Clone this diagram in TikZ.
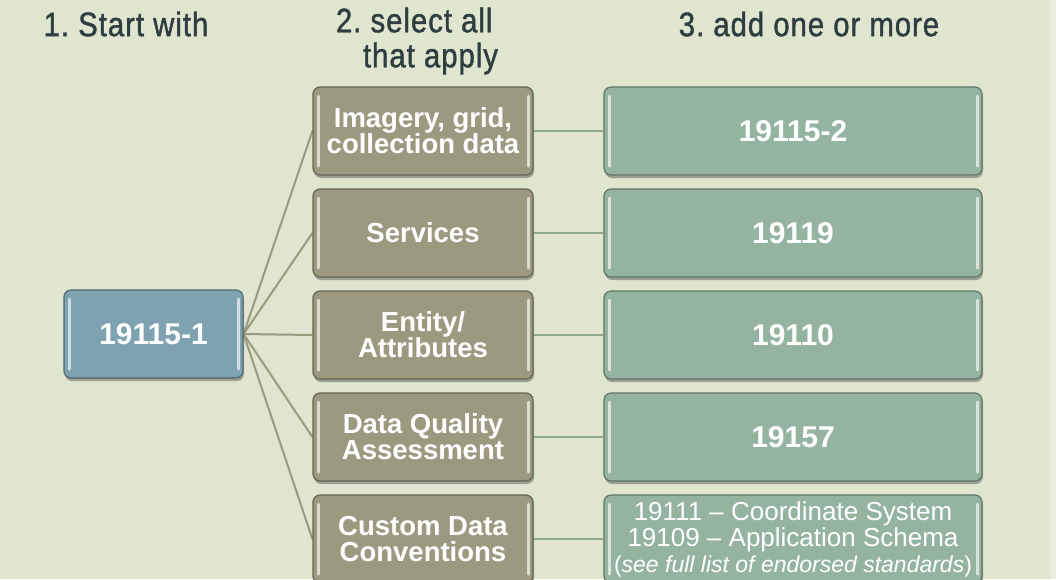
\documentclass[tikz,border=0pt]{standalone}
\usepackage{fontspec}
\setmainfont{Liberation Sans}
\newfontfamily\headfont{Liberation Sans}[FakeStretch=0.86,LetterSpace=3,FakeBold=1.2]
\usetikzlibrary{shadows,backgrounds}
\definecolor{bg}{HTML}{DFE5CF}
\definecolor{bgedge}{HTML}{E9EDDC}
\definecolor{headc}{HTML}{2E3D3F}
\definecolor{leftc}{HTML}{7EA2B0}
\definecolor{midc}{HTML}{9B9A80}
\definecolor{rightc}{HTML}{95B4A0}
\definecolor{fanc}{HTML}{9C9A7E}
\definecolor{linkc}{HTML}{8EA88F}
\frenchspacing
\tikzset{
  head/.style={text=headc, font=\headfont\frenchspacing\fontsize{34}{35}\selectfont, inner sep=0pt},
  box/.style={rounded corners=7pt, minimum height=88pt, inner sep=0pt, align=center,
    text=white, line width=1.2pt,
    drop shadow={shadow xshift=1pt, shadow yshift=-3pt, opacity=0.45, fill=black!70},
    path picture={
      \draw[white, opacity=0.65, line width=3pt, line cap=round]
        ([xshift=5pt,yshift=-9pt]path picture bounding box.north west) --
        ([xshift=5pt,yshift=9pt]path picture bounding box.south west);
      \draw[white, opacity=0.65, line width=3pt, line cap=round]
        ([xshift=-5pt,yshift=-9pt]path picture bounding box.north east) --
        ([xshift=-5pt,yshift=9pt]path picture bounding box.south east);
    }},
  leftbox/.style={box, fill=leftc, draw=leftc!65!black, minimum width=179pt,
    font=\fontsize{30}{30}\selectfont\bfseries},
  midbox/.style={box, fill=midc, draw=midc!65!black, minimum width=220pt,
    font=\fontsize{27.5}{26}\selectfont\bfseries},
  rightbox/.style={box, fill=rightc, draw=rightc!65!black, minimum width=378pt,
    font=\fontsize{30}{30}\selectfont\bfseries},
  fan/.style={draw=fanc, line width=2pt},
  link/.style={draw=linkc, line width=2pt}
}
\begin{document}
\begin{tikzpicture}[x=1pt,y=-1pt]
\useasboundingbox (0,0) rectangle (1056,579);
\clip (0,0) rectangle (1056,579);

\node[head] (h1) at (126,24) {1. Start with};
\node[head, align=left] (h2) at (417,41) {2. select all\\\hspace*{27pt}that apply};
\node[head] (h3) at (809,24) {3. add one or more};

\node[leftbox] (L) at (153.5,334) {19115-1};

\node[midbox] (M1) at (423,131) {Imagery, grid,\\collection data};
\node[midbox] (M2) at (423,233) {Services};
\node[midbox] (M3) at (423,335) {Entity/\\Attributes};
\node[midbox] (M4) at (423,437) {Data Quality\\Assessment};
\node[midbox] (M5) at (423,539) {Custom Data\\Conventions};

\node[rightbox] (R1) at (793,131) {19115-2};
\node[rightbox] (R2) at (793,233) {19119};
\node[rightbox] (R3) at (793,335) {19110};
\node[rightbox] (R4) at (793,437) {19157};
\node[rightbox, font=\fontsize{26}{26}\selectfont] (R5) at (793,539)
  {19111 – Coordinate System\\19109 – Application Schema\\{\fontsize{23}{26}\selectfont(\textit{see full list of endorsed standards})}};

\begin{pgfonlayer}{background}
\fill[bg] (0,0) rectangle (1056,579);
\fill[bgedge] (1050,0) rectangle (1056,579);
\foreach \m in {M1,M2,M3,M4,M5}{
  \draw[fan] (L.east) -- (\m.west);
}
\foreach \i in {1,...,5}{
  \draw[link] (M\i.east) -- (R\i.west);
}
\end{pgfonlayer}
\end{tikzpicture}
\end{document}
